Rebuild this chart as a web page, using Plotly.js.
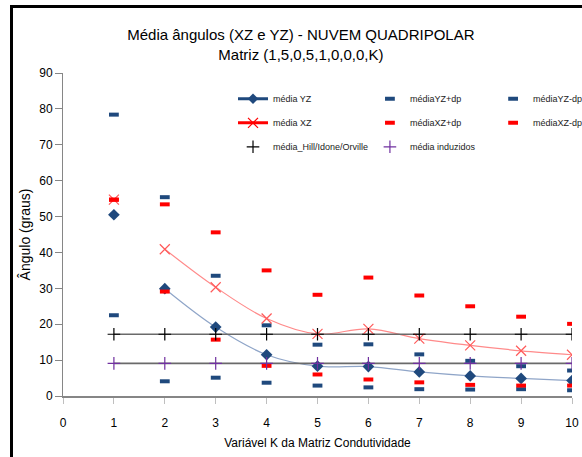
<!DOCTYPE html>
<html>
<head>
<meta charset="utf-8">
<script src="https://cdn.plot.ly/plotly-3.0.1.min.js"></script>
<style>
  html, body { margin: 0; padding: 0; background: #ffffff; }
  #wrap { position: relative; width: 582px; height: 457px; overflow: hidden; }
  #frame { position: absolute; left: 10px; top: 5px; width: 600px; height: 470px;
           border-left: 3px solid #000; border-top: 3px solid #000; }
  #chart { position: absolute; left: 0; top: 0; width: 582px; height: 457px; }
</style>
</head>
<body>
<div id="wrap">
  <div id="frame"></div>
  <div id="chart"></div>
</div>
<script>
// ---- data ----
const K        = [1, 2, 3, 4, 5, 6, 7, 8, 9, 10];
const mediaYZ  = [50.5, 29.9, 19.2, 11.5, 8.3, 8.2, 6.7, 5.6, 4.9, 4.3];
const YZplus   = [78.4, 55.4, 33.5, 19.7, 14.3, 14.4, 11.6, 9.8, 8.3, 7.1];
const YZminus  = [22.5, 4.1, 5.1, 3.7, 2.9, 2.4, 1.9, 1.8, 1.9, 1.6];
const mediaXZ  = [54.7, 40.9, 30.3, 21.6, 17.3, 18.7, 16.0, 14.1, 12.6, 11.5];
const XZplus   = [54.7, 53.4, 45.6, 35.0, 28.2, 33.0, 28.0, 25.0, 22.1, 20.1];
const XZminus  = [54.7, 29.1, 15.7, 8.4, 6.0, 4.6, 3.8, 3.1, 2.9, 2.9];
const mediaHill     = [17.2, 17.2, 17.2, 17.2, 17.2, 17.2, 17.2, 17.2, 17.2, 17.2];
const mediaInduzidos = [9.1, 9.1, 9.1, 9.1, 9.1, 9.1, 9.1, 9.1, 9.1, 9.1];
const xTicks = [0, 1, 2, 3, 4, 5, 6, 7, 8, 9, 10];
const yTicks = [0, 10, 20, 30, 40, 50, 60, 70, 80, 90];

const names = {
  yz: 'média YZ', yzp: 'médiaYZ+dp', yzm: 'médiaYZ-dp',
  xz: 'média XZ', xzp: 'médiaXZ+dp', xzm: 'médiaXZ-dp',
  hill: 'média_Hill/Idone/Orville', ind: 'média induzidos'
};

const NAVY = '#1F497D', RED = '#FF0000', PURPLE = '#7030A0';
const SANS = '"Liberation Sans", Arial, sans-serif';

function dash(color) {
  return { symbol: 'line-ew', size: 7, color: color, line: { color: color, width: 4 } };
}

const traces = [
  // smooth lines (no legend)
  { x: K.slice(1), y: mediaYZ.slice(1), mode: 'lines', line: { color: '#8FA5C8', width: 1.2, shape: 'spline' }, showlegend: false, hoverinfo: 'skip' },
  { x: K.slice(1), y: mediaXZ.slice(1), mode: 'lines', line: { color: '#FF8A8A', width: 1.2, shape: 'spline' }, showlegend: false, hoverinfo: 'skip' },
  { x: K, y: mediaHill, mode: 'lines', line: { color: '#6A6A6A', width: 1.6 }, showlegend: false, hoverinfo: 'skip' },
  { x: K, y: mediaInduzidos, mode: 'lines', line: { color: '#6A6A6A', width: 1.6 }, showlegend: false, hoverinfo: 'skip' },

  // markers
  { x: K, y: mediaYZ, mode: 'markers', name: names.yz, marker: { symbol: 'diamond', size: 9, color: NAVY }, showlegend: false },
  { x: K, y: YZplus, mode: 'markers', name: names.yzp, marker: dash(NAVY), legend: 'legend2', legendgroup: 'a2' },
  { x: K, y: YZminus, mode: 'markers', name: names.yzm, marker: dash(NAVY), legend: 'legend3', legendgroup: 'a3' },
  { x: K, y: mediaXZ, mode: 'markers', name: names.xz, marker: { symbol: 'x-thin-open', size: 10, color: '#FF5A5A', line: { color: '#FF5A5A', width: 1.2 } }, showlegend: false },
  { x: K, y: XZplus, mode: 'markers', name: names.xzp, marker: dash(RED), legend: 'legend2', legendgroup: 'b2' },
  { x: K, y: XZminus, mode: 'markers', name: names.xzm, marker: dash(RED), legend: 'legend3', legendgroup: 'b3' },
  { x: K, y: mediaHill, mode: 'markers', name: names.hill, marker: { symbol: 'cross-thin-open', size: 9, color: '#000', line: { color: '#000', width: 1.2 } }, legend: 'legend', legendgroup: 'c1' },
  { x: K, y: mediaInduzidos, mode: 'markers', name: names.ind, marker: { symbol: 'cross-thin-open', size: 9, color: PURPLE, line: { color: PURPLE, width: 1.2 } }, legend: 'legend2', legendgroup: 'c2' },

  // legend-only entries for the mean series (line + marker symbol in legend)
  { x: [null], y: [null], mode: 'lines+markers', name: names.yz, line: { color: NAVY, width: 3 }, marker: { symbol: 'diamond', size: 8, color: NAVY }, legend: 'legend', legendgroup: 'a1', hoverinfo: 'skip' },
  { x: [null], y: [null], mode: 'lines+markers', name: names.xz, line: { color: RED, width: 3 }, marker: { symbol: 'x-thin-open', size: 10, color: RED, line: { color: RED, width: 1.2 } }, legend: 'legend', legendgroup: 'b1', hoverinfo: 'skip' }
];

traces[12].legendrank = 1; traces[13].legendrank = 2; traces[10].legendrank = 3;
traces[5].legendrank = 1; traces[8].legendrank = 2; traces[11].legendrank = 3;
traces[6].legendrank = 1; traces[9].legendrank = 2;

const legFont = { family: SANS, size: 9, color: '#222' };
function leg(x) {
  return { x: x, y: 0.965, xanchor: 'left', yanchor: 'top', bgcolor: 'rgba(0,0,0,0)',
           font: legFont, tracegroupgap: 5, itemwidth: 30, traceorder: 'grouped' };
}

const layout = {
  width: 582, height: 457,
  paper_bgcolor: 'rgba(0,0,0,0)', plot_bgcolor: 'rgba(0,0,0,0)',
  margin: { l: 63, r: 10, t: 73, b: 61, autoexpand: false },
  title: {
    text: 'Média ângulos (XZ e YZ) - NUVEM QUADRIPOLAR<br>Matriz (1,5,0,5,1,0,0,0,K)',
    font: { family: SANS, size: 15, color: '#000' },
    xref: 'container', x: 0.517, xanchor: 'center',
    yref: 'container', y: 0.912, yanchor: 'middle'
  },
  xaxis: {
    range: [0, 10], tickvals: xTicks, ticktext: xTicks.map(String),
    showgrid: false, zeroline: false,
    showline: true, linecolor: '#868686', linewidth: 2,
    ticks: 'outside', ticklen: 6, tickcolor: '#BFBFBF', tickwidth: 1,
    ticklabelstandoff: 9,
    tickfont: { family: SANS, size: 12, color: '#000' },
    title: { text: 'Variável K da Matriz Condutividade', font: { family: SANS, size: 12, color: '#000' }, standoff: 9 }
  },
  yaxis: {
    range: [0, 90], tickvals: yTicks, ticktext: yTicks.map(String),
    showgrid: false, zeroline: false,
    showline: true, linecolor: '#868686', linewidth: 1,
    ticks: 'outside', ticklen: 7, tickcolor: '#868686', tickwidth: 1,
    tickfont: { family: SANS, size: 12, color: '#000' },
    title: { text: 'Ângulo (graus)', font: { family: SANS, size: 14, color: '#000' }, standoff: 5 }
  },
  legend: leg(0.334),
  legend2: leg(0.603),
  legend3: leg(0.845),
  showlegend: true
};

Plotly.newPlot('chart', traces, layout, { displayModeBar: false, staticPlot: true });
</script>
</body>
</html>
